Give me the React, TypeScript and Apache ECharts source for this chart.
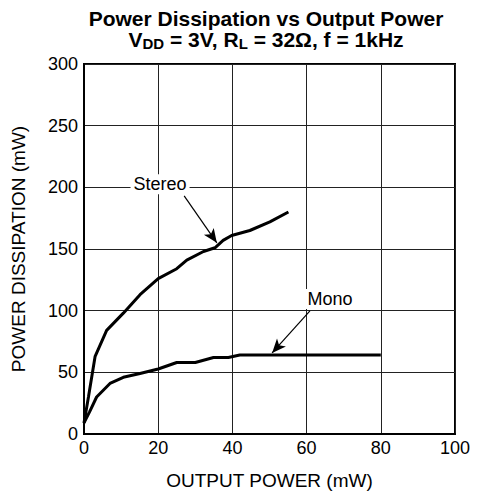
import React, { useEffect, useRef } from "react";
import * as echarts from "echarts";

const stereoX = [0, 1.2, 3, 6.1, 10.6, 15.1, 20, 25, 27.7, 32.2, 35.3, 37.5, 39.8, 44.7, 50.1, 55.1];
const stereoY = [9, 30, 63, 84, 98, 113, 126, 134, 141, 148, 151, 157, 161, 165, 172, 180];
const monoX = [0, 1.5, 3.4, 7, 10.6, 15.1, 20, 25, 30, 34.9, 38.9, 42, 50, 60, 70, 80];
const monoY = [9, 18, 30, 41, 46, 49, 52.7, 58, 58, 62, 62, 64, 64, 64, 64, 64];

const xTicks = [0, 20, 40, 60, 80, 100];
const yTicks = [0, 50, 100, 150, 200, 250, 300];

const stereoLabel = { text: "Stereo", at: [20.5, 202.5], from: [27, 193], to: [35.8, 155] };
const monoLabel = { text: "Mono", at: [66.3, 109.5], from: [60.9, 99.8], to: [50.7, 65.7] };

const FONT = "Liberation Sans, Arial, Helvetica, sans-serif";

export default function App() {
  const ref = useRef<HTMLDivElement>(null);
  useEffect(() => {
    if (!ref.current) return;
    const chart = echarts.init(ref.current, null, { renderer: "svg" });
    const annot = (a: any) => ({
      markPoint: {
        symbol: "rect",
        symbolSize: 1,
        itemStyle: { color: "transparent" },
        label: {
          show: true,
          position: "inside",
          formatter: a.text,
          color: "#000",
          fontSize: 18,
          fontFamily: FONT,
          backgroundColor: "#fff",
          padding: [1, 3, 1, 3],
        },
        data: [{ coord: a.at }],
      },
      markLine: {
        silent: true,
        symbolSize: [9, 14],
        lineStyle: { color: "#000", width: 1.2, type: "solid" },
        label: { show: false },
        data: [[{ coord: a.from, symbol: "none" }, { coord: a.to, symbol: "arrow" }]],
      },
    });
    const b = { fontSize: 21, fontWeight: "bold", fontFamily: FONT, color: "#000", lineHeight: 21 };
    chart.setOption({
      animation: false,
      title: [
        {
          text: "{b|Power Dissipation vs Output Power}",
          left: 266,
          top: 8,
          padding: 0,
          textAlign: "center",
          textStyle: { rich: { b } },
        },
        {
          text: "{b|V}{s|DD}{b| = 3V, R}{s|L}{b| = 32Ω, f = 1kHz}",
          left: 266,
          top: 29,
          padding: 0,
          textAlign: "center",
          textStyle: {
            rich: {
              b,
              s: { fontSize: 15, fontWeight: "bold", fontFamily: FONT, color: "#000", lineHeight: 13, padding: [8, 0, 0, 0] },
            },
          },
        },
      ],
      grid: {
        left: 84,
        right: 23,
        top: 64,
        bottom: 65,
        show: true,
        borderColor: "#000",
        borderWidth: 2,
        backgroundColor: "#fff",
      },
      xAxis: {
        type: "value",
        min: xTicks[0],
        max: xTicks[xTicks.length - 1],
        interval: 20,
        name: "OUTPUT POWER (mW)",
        nameLocation: "middle",
        nameGap: 37,
        nameTextStyle: { fontSize: 19, fontFamily: FONT, color: "#000" },
        axisLine: { show: true, lineStyle: { color: "#000", width: 2 } },
        axisTick: { show: false },
        axisLabel: { fontSize: 18, fontFamily: FONT, color: "#000", margin: 5 },
        splitLine: { show: true, lineStyle: { color: "#222", width: 1 } },
      },
      yAxis: {
        type: "value",
        min: yTicks[0],
        max: yTicks[yTicks.length - 1],
        interval: 50,
        name: "POWER DISSIPATION (mW)",
        nameLocation: "middle",
        nameGap: 56,
        nameRotate: 90,
        nameTextStyle: { fontSize: 19, fontFamily: FONT, color: "#000" },
        axisLine: { show: true, lineStyle: { color: "#000", width: 2 } },
        axisTick: { show: false },
        axisLabel: { fontSize: 18, fontFamily: FONT, color: "#000", margin: 6 },
        splitLine: { show: true, lineStyle: { color: "#222", width: 1 } },
      },
      series: [
        {
          name: "Stereo",
          type: "line",
          data: stereoX.map((x, i) => [x, stereoY[i]]),
          showSymbol: false,
          lineStyle: { color: "#000", width: 3 },
          z: 3,
          ...annot(stereoLabel),
        },
        {
          name: "Mono",
          type: "line",
          data: monoX.map((x, i) => [x, monoY[i]]),
          showSymbol: false,
          lineStyle: { color: "#000", width: 3 },
          z: 3,
          ...annot(monoLabel),
        },
      ],
    });
    return () => chart.dispose();
  }, []);
  return (
    <div
      ref={ref}
      style={{ position: "fixed", left: 0, top: 0, width: 478, height: 499, background: "#fff" }}
    />
  );
}
